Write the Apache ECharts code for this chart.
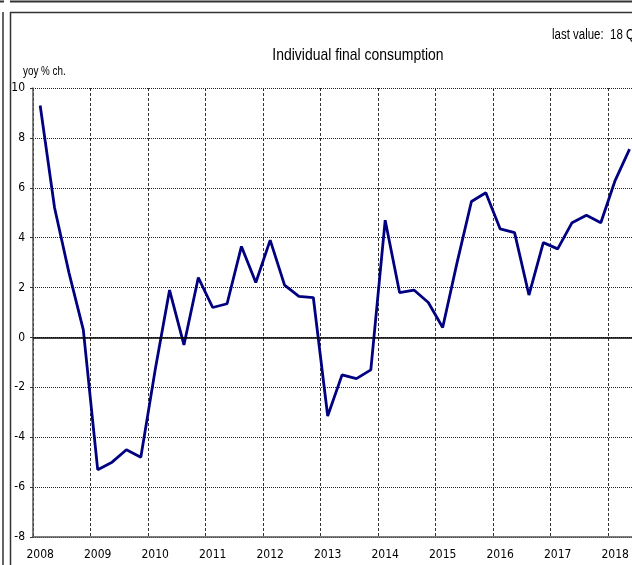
<!DOCTYPE html>
<html>
<head>
<meta charset="utf-8">
<script src="https://cdn.jsdelivr.net/npm/echarts@6/dist/echarts.min.js"></script>
<style>
  html, body { margin: 0; padding: 0; overflow: hidden; background: #fff; }
  #chart { width: 700px; height: 565px; }
</style>
</head>
<body>
<div id="chart"></div>
<script>
// quarterly yoy % change, 2008 Q1 .. 2018 Q2
const years = ['2008', '2009', '2010', '2011', '2012', '2013', '2014', '2015', '2016', '2017', '2018'];
const quarters = ['Q1', 'Q2', 'Q3', 'Q4'];
const consumption = [
  9.3, 5.2, 2.6, 0.3,
  -5.3, -5.0, -4.5, -4.8,
  -1.3, 1.9, -0.3, 2.4,
  1.2, 1.35, 3.65, 2.2,
  3.9, 2.1, 1.65, 1.6,
  -3.15, -1.5, -1.65, -1.3,
  4.7, 1.8, 1.9, 1.4,
  0.4, 3.0, 5.45, 5.8,
  4.35, 4.2, 1.7, 3.8,
  3.55, 4.6, 4.9, 4.6,
  6.3, 7.55
];

const categories = [];
years.forEach((y) => {
  quarters.forEach((q) => categories.push(y + ' ' + q));
});

const font = '"Liberation Sans Narrow", "DejaVu Sans Condensed", sans-serif';
const arial = '"Liberation Sans", Arial, sans-serif';

// narrow text: Arial-like glyphs squeezed horizontally
function narrowText(text, x, y, size, align) {
  return {
    type: 'text',
    x: x,
    y: y,
    scaleX: 0.82,
    style: { text: text, x: 0, y: 0, align: align, verticalAlign: 'middle', font: size + 'px ' + arial, fill: '#000' }
  };
}

let myChart = echarts.init(document.getElementById('chart'));
myChart.setOption({
  animation: false,
  graphic: [
    narrowText('Individual final consumption', 358, 55, 17, 'center'),
    narrowText('last value:  18 Q2', 552, 35, 14, 'left'),
    narrowText('yoy % ch.', 23, 72, 12, 'left'),
    { type: 'line', shape: { x1: 0, y1: 1.5, x2: 4, y2: 1.5 }, style: { stroke: '#333', lineWidth: 2 } },
    { type: 'line', shape: { x1: 10, y1: 1.5, x2: 700, y2: 1.5 }, style: { stroke: '#333', lineWidth: 2 } },
    { type: 'line', shape: { x1: 3, y1: 12, x2: 3, y2: 565 }, style: { stroke: '#333', lineWidth: 1.5 } },
    { type: 'line', shape: { x1: 10.5, y1: 12, x2: 10.5, y2: 565 }, style: { stroke: '#333', lineWidth: 1.5 } },
    { type: 'line', shape: { x1: 10, y1: 12.5, x2: 700, y2: 12.5 }, style: { stroke: '#333', lineWidth: 1.5 } }
  ],
  grid: { left: 33, top: 88, right: 34.5, bottom: 28 },
  xAxis: {
    type: 'category',
    data: categories,
    boundaryGap: true,
    axisLine: { onZero: false, lineStyle: { color: '#555', width: 1.5 } },
    axisTick: { interval: 3, length: 3, lineStyle: { color: '#333' } },
    axisLabel: {
      interval: 3,
      margin: 12,
      fontFamily: font,
      fontSize: 12,
      color: '#000',
      formatter: (v) => v.split(' ')[0]
    },
    splitLine: {
      show: true,
      interval: 3,
      lineStyle: { color: '#333', type: [3, 2], width: 1 }
    }
  },
  yAxis: {
    type: 'value',
    min: -8,
    max: 10,
    interval: 2,
    axisLine: { show: true, lineStyle: { color: '#555', width: 1.5 } },
    axisTick: { show: true, length: 3, lineStyle: { color: '#333' } },
    axisLabel: { margin: 8, fontFamily: font, fontSize: 12, color: '#000' },
    splitLine: { lineStyle: { color: '#222', type: [1, 1], width: 1 } }
  },
  series: [
    {
      type: 'line',
      data: consumption,
      symbol: 'none',
      lineStyle: { color: '#000080', width: 2.8 },
      markLine: {
        silent: true,
        symbol: 'none',
        label: { show: false },
        lineStyle: { color: '#000', type: 'solid', width: 1.5 },
        data: [{ yAxis: 0 }]
      },
      z: 3
    }
  ]
});
</script>
</body>
</html>
